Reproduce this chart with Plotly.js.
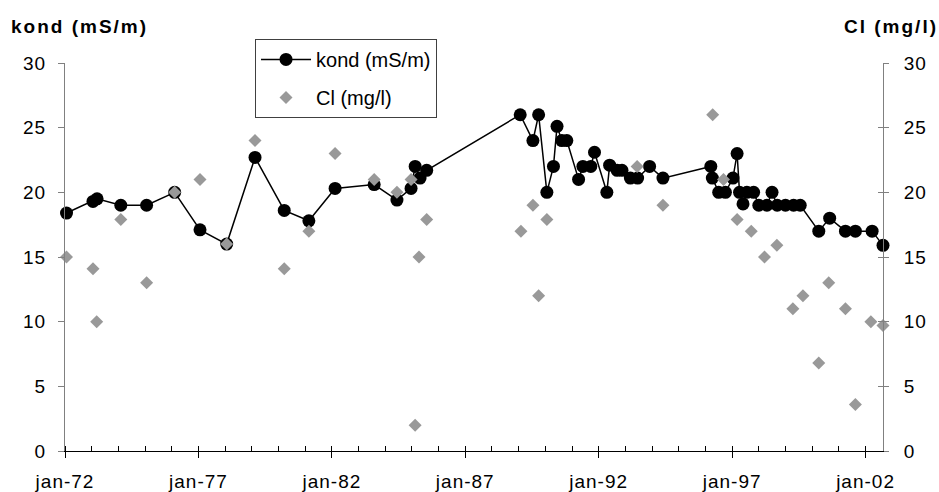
<!DOCTYPE html>
<html>
<head>
<meta charset="utf-8">
<script src="https://cdn.plot.ly/plotly-3.0.1.min.js"></script>
<style>
html,body{margin:0;padding:0;background:#fff;}
#chart{width:939px;height:492px;}
#chart .xtick text, #chart .ytick text, #chart .y2tick text { letter-spacing: 1px; }
#chart .annotation-text { letter-spacing: 2px; }
</style>
</head>
<body>
<div id="chart"></div>
<script>
// kond (mS/m) – black circles with line, left axis
const kondDates = ['1972-01-22','1973-01-18','1973-03-15','1974-02-03','1975-01-22','1976-02-10','1977-01-22','1978-01-22','1979-02-14','1980-03-20','1981-02-20','1982-02-14','1983-08-03','1984-06-10','1984-12-20','1985-02-14','1985-04-22','1985-07-22','1989-01-22','1989-07-15','1989-10-01','1990-01-22','1990-04-22','1990-06-10','1990-08-15','1990-10-22','1991-04-01','1991-05-30','1991-09-15','1991-11-05','1992-04-22','1992-05-30','1992-09-10','1992-11-15','1993-03-10','1993-06-17','1993-11-28','1994-05-30','1996-03-15','1996-04-05','1996-07-01','1996-10-01','1997-01-12','1997-03-10','1997-04-12','1997-05-30','1997-07-22','1997-10-22','1998-01-01','1998-04-22','1998-07-01','1998-09-10','1999-01-01','1999-04-22','1999-07-22','2000-04-01','2000-08-28','2001-04-01','2001-08-15','2002-04-01','2002-08-28'];
const kondValues = [18.4,19.3,19.5,19.0,19.0,20.0,17.1,16.0,22.7,18.6,17.8,20.3,20.6,19.4,20.3,22.0,21.1,21.7,26.0,24.0,26.0,20.0,22.0,25.1,24.0,24.0,21.0,22.0,22.0,23.1,20.0,22.1,21.7,21.7,21.1,21.1,22.0,21.1,22.0,21.1,20.0,20.0,21.1,23.0,20.0,19.1,20.0,20.0,19.0,19.0,20.0,19.0,19.0,19.0,19.0,17.0,18.0,17.0,17.0,17.0,15.9];

// Cl (mg/l) – grey diamonds, right axis
const clDates = ['1972-01-22','1973-01-18','1973-03-10','1974-02-03','1975-01-22','1976-02-10','1977-01-22','1978-01-22','1979-02-14','1980-03-20','1981-02-20','1982-02-14','1983-08-03','1984-06-10','1984-12-20','1985-02-14','1985-04-08','1985-07-22','1989-02-01','1989-07-15','1989-10-01','1990-01-22','1993-06-10','1994-05-30','1996-04-10','1996-09-05','1997-03-10','1997-09-20','1998-03-20','1998-09-05','1999-04-12','1999-08-28','2000-04-01','2000-08-15','2001-04-01','2001-08-15','2002-03-15','2002-08-28'];
const clValues = [15.0,14.1,10.0,17.9,13.0,20.0,21.0,16.0,24.0,14.1,17.0,23.0,21.0,20.0,21.0,2.0,15.0,17.9,17.0,19.0,12.0,17.9,22.0,19.0,26.0,21.0,17.9,17.0,15.0,15.9,11.0,12.0,6.8,13.0,11.0,3.6,10.0,9.7];

// axis ticks
const xTickVals = ['1972-01-01','1977-01-01','1982-01-01','1987-01-01','1992-01-01','1997-01-01','2002-01-01'];
const xTickText = ['jan-72','jan-77','jan-82','jan-87','jan-92','jan-97','jan-02'];
const yTickVals = [0,5,10,15,20,25,30];

const FONT = '"Liberation Sans", Arial, sans-serif';

const traces = [
  {
    type: 'scatter', mode: 'lines+markers', name: 'kond (mS/m)',
    x: kondDates, y: kondValues, xaxis: 'x', yaxis: 'y',
    line: {color: '#000000', width: 1.5},
    marker: {symbol: 'circle', size: 13, color: '#000000'},
    legendgroup: 'a', cliponaxis: false
  },
  {
    type: 'scatter', mode: 'markers', name: 'Cl (mg/l)',
    x: clDates, y: clValues, xaxis: 'x', yaxis: 'y2',
    marker: {symbol: 'diamond', size: 10, color: '#999999'},
    legendgroup: 'b', cliponaxis: false
  }
];

const layout = {
  width: 939, height: 492,
  margin: {l: 65, r: 56, t: 63, b: 41},
  paper_bgcolor: '#ffffff', plot_bgcolor: '#ffffff',
  font: {family: FONT, size: 19, color: '#000000'},
  showlegend: true,
  legend: {
    x: 0.2323, y: 1.062, xanchor: 'left', yanchor: 'top',
    bordercolor: '#404040', borderwidth: 1, bgcolor: '#ffffff',
    font: {family: FONT, size: 20, color: '#000000'},
    itemwidth: 50, traceorder: 'grouped', tracegroupgap: 9
  },
  xaxis: {
    type: 'date', range: ['1972-01-01', '2002-08-28'],
    showgrid: false, zeroline: false,
    showline: true, linecolor: '#000000', linewidth: 1,
    tickmode: 'array', tickvals: xTickVals, ticktext: xTickText,
    ticks: 'outside', ticklen: 6, tickcolor: '#000000',
    ticklabelstandoff: 7,
    minor: {tickmode: 'linear', tick0: '1972-01-01', dtick: 'M12', ticks: 'inside', ticklen: 5, tickcolor: '#000000', showgrid: false},
    tickfont: {family: FONT, size: 19}
  },
  yaxis: {
    range: [0, 30], tickmode: 'array', tickvals: yTickVals,
    showgrid: false, zeroline: false,
    showline: true, linecolor: '#808080', linewidth: 1,
    ticks: 'outside', ticklen: 6, tickcolor: '#808080',
    ticklabelstandoff: 8,
    tickfont: {family: FONT, size: 19}
  },
  yaxis2: {
    range: [0, 30], tickmode: 'array', tickvals: yTickVals,
    overlaying: 'y', side: 'right', anchor: 'x',
    showgrid: false, zeroline: false,
    showline: true, linecolor: '#808080', linewidth: 1,
    ticks: 'outside', ticklen: 5, tickcolor: '#808080',
    ticklabelstandoff: 11,
    tickfont: {family: FONT, size: 19}
  },
  yaxis3: {
    range: [0, 30], tickmode: 'array', tickvals: yTickVals,
    overlaying: 'y', side: 'right', anchor: 'x',
    showgrid: false, zeroline: false, showline: false,
    ticks: 'inside', ticklen: 5, tickcolor: '#808080',
    showticklabels: false
  },
  annotations: [
    {xref: 'paper', yref: 'paper', x: -0.0555, y: 1.0928, xanchor: 'left', yanchor: 'middle',
     text: '<b>kond (mS/m)</b>', showarrow: false, font: {family: FONT, size: 19}},
    {xref: 'paper', yref: 'paper', x: 1.059, y: 1.0928, xanchor: 'right', yanchor: 'middle',
     text: '<b>Cl (mg/l)</b>', showarrow: false, font: {family: FONT, size: 19}}
  ]
};

// helper trace to activate yaxis3 for crossing ticks on the right axis
traces.push({type: 'scatter', mode: 'markers', x: [kondDates[0]], y: [null], xaxis: 'x', yaxis: 'y3', showlegend: false, hoverinfo: 'skip'});

Plotly.newPlot('chart', traces, layout, {displayModeBar: false, staticPlot: true});
</script>
</body>
</html>
